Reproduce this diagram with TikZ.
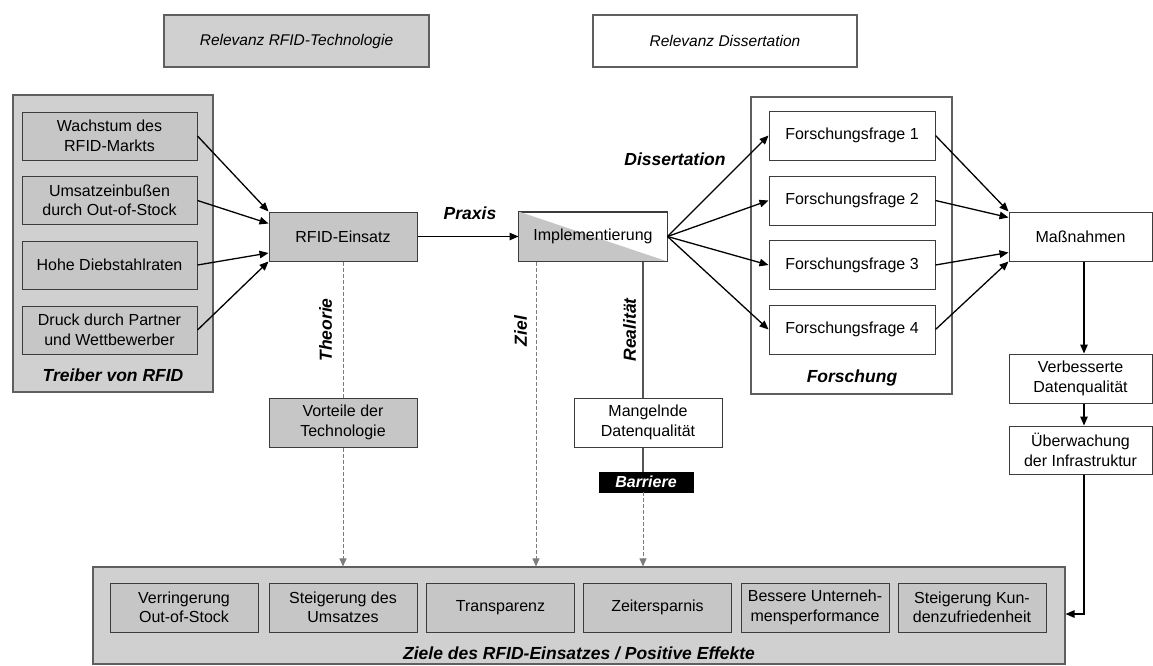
\documentclass[tikz,border=0pt]{standalone}
\usepackage{fontspec}
\setmainfont{Liberation Sans}
\usetikzlibrary{arrows.meta,calc}
\definecolor{panelgray}{RGB}{208,208,208}
\definecolor{boxgray}{RGB}{198,198,198}
\definecolor{edgegray}{RGB}{60,60,60}
\definecolor{paneledge}{RGB}{95,95,95}
\definecolor{dashgray}{RGB}{125,125,125}
\definecolor{linegray}{RGB}{85,85,85}

\begin{document}
\begin{tikzpicture}[x=1pt,y=-1pt,
  every node/.style={font=\fontsize{16}{19.5}\selectfont, inner sep=0pt, align=center},
  panel/.style={draw=paneledge, fill=panelgray, line width=1.1pt},
  graybox/.style={draw=edgegray, fill=boxgray, line width=1pt},
  whitebox/.style={draw=edgegray, fill=white, line width=1pt},
  tag/.style={font=\fontsize{17.5}{20}\selectfont\bfseries\itshape},
  titletext/.style={font=\fontsize{15.5}{19}\selectfont\itshape},
  flow/.style={-{Triangle[length=9pt,width=7.5pt]}, line width=1.3pt, black},
  dashedflow/.style={dashgray, line width=1pt, dash pattern=on 4pt off 2pt},
  dashedarrow/.style={dashedflow, -{Triangle[length=8pt,width=7pt]}},
  solidgray/.style={linegray, line width=1.2pt},
]
\useasboundingbox (0,0) rectangle (1153,665);

% headings
\node[panel, minimum width=265pt, minimum height=52pt, titletext] (t1) at (296.5,41) {Relevanz RFID-Technologie};
\node[draw=paneledge, fill=white, line width=1.1pt, minimum width=264pt, minimum height=52pt, titletext] (t2) at (725,41) {Relevanz Dissertation};

% drivers
\node[panel, minimum width=200pt, minimum height=297pt] (drv) at (113,243.5) {};
\node[graybox, minimum width=175pt, minimum height=48pt] (d1) at (109.5,136) {Wachstum des\\RFID-Markts};
\node[graybox, minimum width=175pt, minimum height=48pt] (d2) at (109.5,200.5) {Umsatzeinbußen\\durch Out-of-Stock};
\node[graybox, minimum width=175pt, minimum height=48pt] (d3) at (109.5,265) {Hohe Diebstahlraten};
\node[graybox, minimum width=175pt, minimum height=48pt] (d4) at (109.5,330) {Druck durch Partner\\und Wettbewerber};
\node[tag] (drvlabel) at (113,375) {Treiber von RFID};

% use and implementation
\node[graybox, minimum width=148pt, minimum height=49pt] (rfid) at (343,236.5) {RFID-Einsatz};
\node[whitebox, minimum width=148pt, minimum height=49pt] (impl) at (593,236.5) {};
\fill[boxgray] (impl.north west) -- (impl.south west) -- (impl.south east) -- cycle;
\draw[edgegray, line width=1pt] (impl.north west) rectangle (impl.south east);
\node (impltext) at (impl.center) {Implementierung};

% research
\node[panel, fill=white, minimum width=201pt, minimum height=297pt] (res) at (851.5,245.5) {};
\node[whitebox, minimum width=166pt, minimum height=49pt] (f1) at (852,135.5) {Forschungsfrage 1};
\node[whitebox, minimum width=166pt, minimum height=49pt] (f2) at (852,200.5) {Forschungsfrage 2};
\node[whitebox, minimum width=166pt, minimum height=49pt] (f3) at (852,265) {Forschungsfrage 3};
\node[whitebox, minimum width=166pt, minimum height=49pt] (f4) at (852,329.5) {Forschungsfrage 4};
\node[tag] (reslabel) at (852,378) {Forschung};

% measures
\node[whitebox, minimum width=143pt, minimum height=49pt] (mass) at (1080.5,236.5) {Maßnahmen};
\node[whitebox, minimum width=143pt, minimum height=49pt] (verb) at (1080.5,378.5) {Verbesserte\\Datenqualität};
\node[whitebox, minimum width=143pt, minimum height=48pt] (ueber) at (1080.5,450) {Überwachung\\der Infrastruktur};

% theory and reality
\node[graybox, minimum width=148pt, minimum height=49pt] (vort) at (343,422.5) {Vorteile der\\Technologie};
\node[whitebox, minimum width=148pt, minimum height=49pt] (mang) at (648,422.5) {Mangelnde\\Datenqualität};
\node[fill=black, draw=black, minimum width=94pt, minimum height=20pt, text=white, font=\fontsize{16}{19}\selectfont\bfseries\itshape] (barr) at (646,482) {Barriere};

% goals
\node[panel, minimum width=972pt, minimum height=97pt] (goals) at (579,615.5) {};
\node[graybox, minimum width=148pt, minimum height=49pt] (g1) at (184,607.5) {Verringerung\\Out-of-Stock};
\node[graybox, minimum width=148pt, minimum height=49pt] (g2) at (343,607.5) {Steigerung des\\Umsatzes};
\node[graybox, minimum width=148pt, minimum height=49pt] (g3) at (500.5,607.5) {Transparenz};
\node[graybox, minimum width=148pt, minimum height=49pt] (g4) at (657.5,607.5) {Zeitersparnis};
\node[graybox, minimum width=148pt, minimum height=49pt] (g5) at (815,607.5) {Bessere Unterneh-\\mensperformance};
\node[graybox, minimum width=148pt, minimum height=49pt] (g6) at (972,607.5) {Steigerung Kun-\\denzufriedenheit};
\node[tag] (goalslabel) at (579,653) {Ziele des RFID-Einsatzes / Positive Effekte};

% edge labels
\node[tag] (praxis) at (470,213.5) {Praxis};
\node[tag] (diss) at (675,159) {Dissertation};
\node[tag, rotate=90] (theorie) at (325.5,330) {Theorie};
\node[tag, rotate=90] (ziel) at (520.5,331) {Ziel};
\node[tag, rotate=90] (real) at (629.5,330) {Realität};

% guide columns for the vertical links
\coordinate (zielx) at (536,300);
\coordinate (realx) at (643,300);
\coordinate (loopx) at (1084,600);
\coordinate (loopy) at (1100,614);

% drivers into RFID use
\draw[flow] (d1.east) -- (rfid.north west);
\draw[flow] (d2.east) -- ($(rfid.north west)!0.24!(rfid.south west)$);
\draw[flow] (d3.east) -- ($(rfid.north west)!0.83!(rfid.south west)$);
\draw[flow] (d4.east) -- (rfid.south west);

\draw[flow] (rfid.east) -- (impl.west);

% implementation into research questions
\draw[flow] (impl.east) -- (f1.west);
\draw[flow] (impl.east) -- (f2.west);
\draw[flow] (impl.east) -- (f3.west);
\draw[flow] (impl.east) -- (f4.west);

% research questions into measures
\draw[flow] (f1.east) -- (mass.north west);
\draw[flow] (f2.east) -- ($(mass.north west)!0.12!(mass.south west)$);
\draw[flow] (f3.east) -- ($(mass.north west)!0.82!(mass.south west)$);
\draw[flow] (f4.east) -- (mass.south west);

\draw[flow] (mass.south -| loopx) -- (verb.north -| loopx);
\draw[flow] (verb.south -| loopx) -- (ueber.north -| loopx);
\draw[flow] (ueber.south -| loopx) -- (loopx |- loopy) -- (goals.east |- loopy);

% theory, target and reality links
\draw[dashedflow] (rfid.south) -- (vort.north);
\draw[dashedarrow] (vort.south) -- (goals.north -| vort.south);
\draw[dashedarrow] (impl.south -| zielx) -- (goals.north -| zielx);
\draw[solidgray] (impl.south -| realx) -- (mang.north -| realx);
\draw[solidgray] (mang.south -| realx) -- (barr.north -| realx);
\draw[dashedarrow] (barr.south -| realx) -- (goals.north -| realx);
\end{tikzpicture}
\end{document}
